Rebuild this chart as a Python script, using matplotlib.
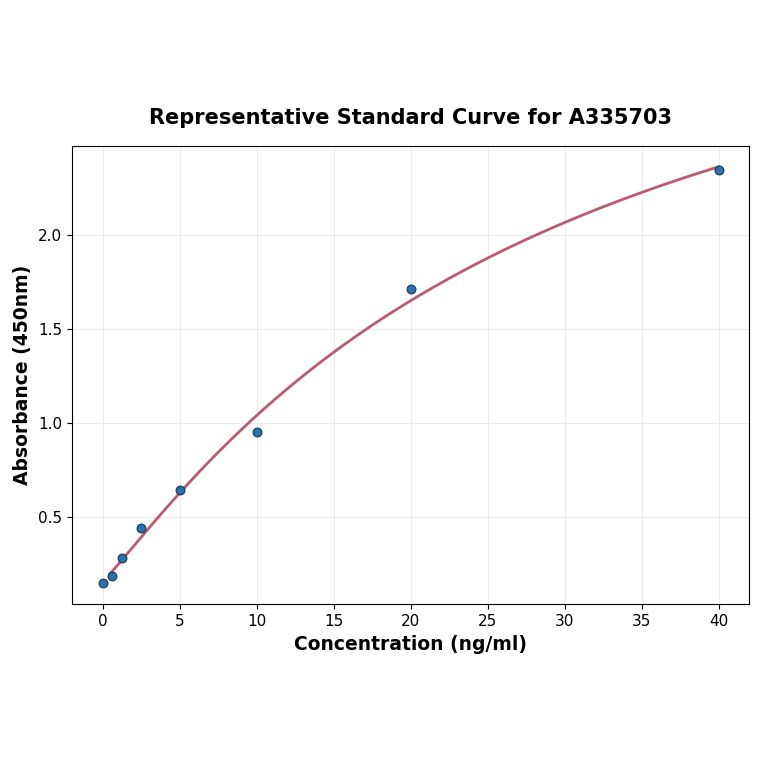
import numpy as np
import matplotlib
matplotlib.use('Agg')
import matplotlib.pyplot as plt

# standard concentrations (ng/ml) and measured absorbance
conc = [0, 0.625, 1.25, 2.5, 5, 10, 20, 40]
absorb = [0.148, 0.186, 0.281, 0.445, 0.647, 0.954, 1.713, 2.344]

x = np.array(conc, dtype=float)
y = np.array(absorb, dtype=float)

# 4PL fit by grid search (a, d solved linearly for each b, c)
best = None
for b in np.linspace(0.5, 3.0, 126):
    for c in np.logspace(0, 3, 301):
        g = 1.0 / (1.0 + (x / c) ** b)
        A = np.column_stack([g, 1 - g])
        coef, *_ = np.linalg.lstsq(A, y, rcond=None)
        r = np.sum((A @ coef - y) ** 2)
        if best is None or r < best[0]:
            best = (r, b, c, coef)
_, b4, c4, (a4, d4) = best

xs = np.linspace(0.5, 40, 300)
y4 = d4 + (a4 - d4) / (1 + (xs / c4) ** b4)

fig, ax = plt.subplots(figsize=(7.64, 7.64), dpi=100)
ax.plot(xs, y4, color='#b85c6e', lw=2)
ax.scatter(x, y, s=40, color='#2a72ad', edgecolors='#1c3550', linewidths=0.8, zorder=3)
ax.set_title('Representative Standard Curve for A335703', fontsize=15, fontweight='bold', pad=16)
ax.set_xlabel('Concentration (ng/ml)', fontsize=13.5, fontweight='bold')
ax.set_ylabel('Absorbance (450nm)', fontsize=13.5, fontweight='bold')
ax.tick_params(labelsize=11)
ax.grid(True, color='#e8e8e8', lw=0.6)
ax.set_axisbelow(True)
plt.subplots_adjust(left=0.094, right=0.981, top=0.809, bottom=0.209)
fig.savefig('out.png')
